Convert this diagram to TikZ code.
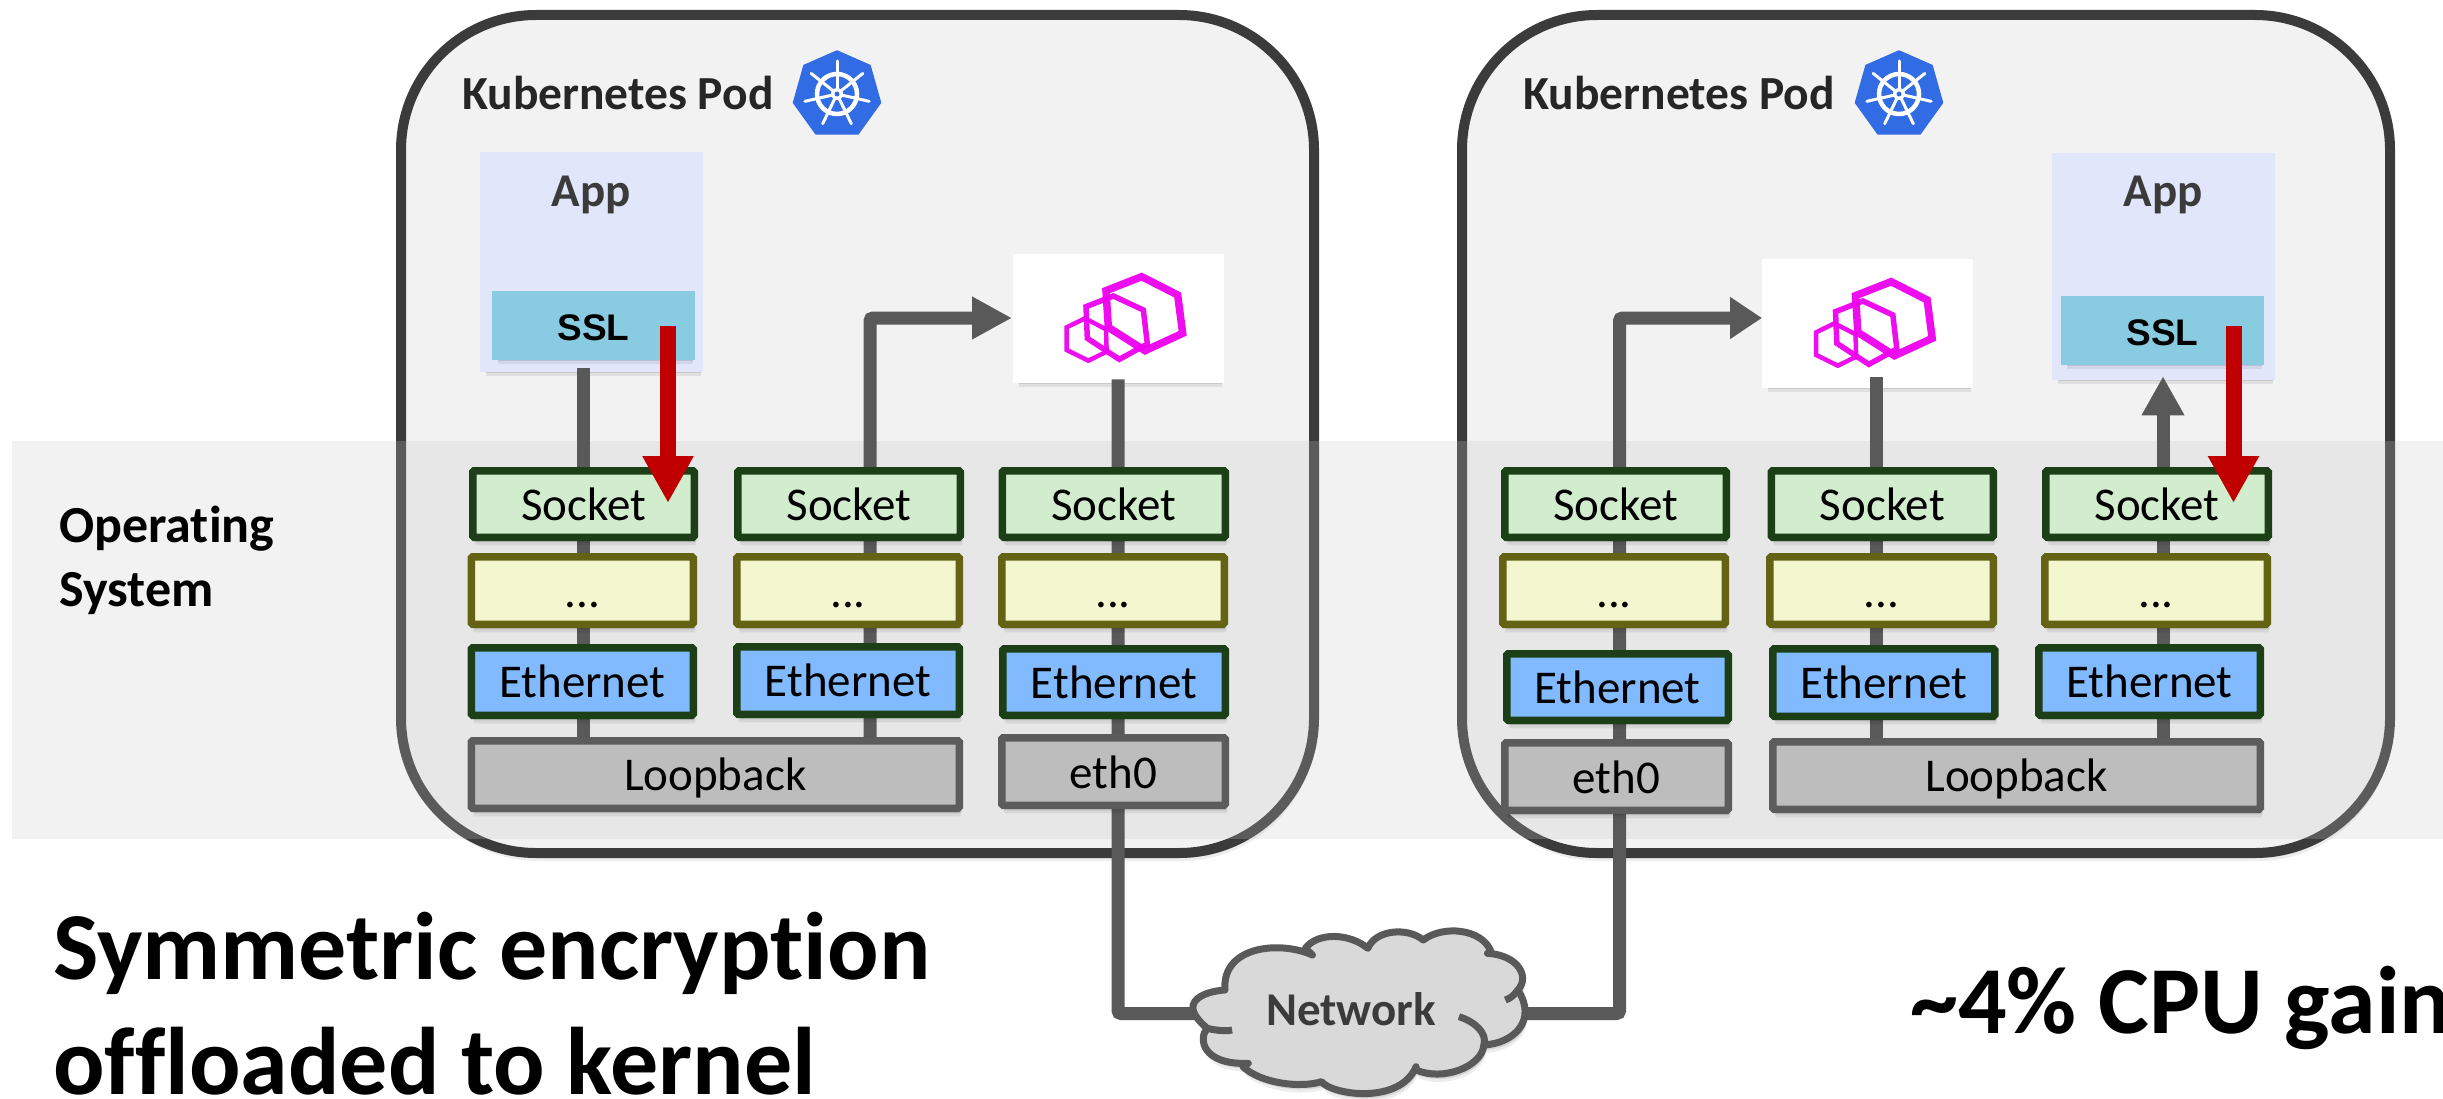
\documentclass[tikz,border=0pt]{standalone}
\usepackage{fontspec}
\setmainfont[Ligatures=NoCommon]{Carlito}
\newfontfamily\arialf{Liberation Sans}
\usetikzlibrary{shadows,arrows.meta}
\pgfdeclarelayer{bg}\pgfdeclarelayer{apps}\pgfdeclarelayer{wires}\pgfdeclarelayer{top}
\pgfsetlayers{bg,apps,wires,main,top}
\definecolor{podline}{HTML}{3B3B3B}
\definecolor{podfill}{HTML}{F2F2F2}
\definecolor{wirec}{HTML}{595959}
\definecolor{sockf}{HTML}{D2EDCE}
\definecolor{sockd}{HTML}{1C3F17}
\definecolor{dotf}{HTML}{F4F6CF}
\definecolor{dotd}{HTML}{636313}
\definecolor{ethf}{HTML}{82BAFF}
\definecolor{grayf}{HTML}{BDBDBD}
\definecolor{grayd}{HTML}{5C5C5C}
\definecolor{appf}{HTML}{E1E6FB}
\definecolor{sslf}{HTML}{89CBE0}
\definecolor{redc}{HTML}{C00000}
\definecolor{kube}{HTML}{326CE5}
\definecolor{envoyc}{HTML}{EE00EE}
\definecolor{bandc}{RGB}{198,198,198}
\definecolor{cloudf}{HTML}{D9D9D9}
\definecolor{txtd}{HTML}{3B3B3B}
\newcommand\pxfont[1]{\fontsize{#1}{#1}\selectfont}
\tikzset{
  softshadow/.style={drop shadow={shadow xshift=1pt,shadow yshift=-2.5pt,fill=black,opacity=.10},
    drop shadow={shadow xshift=2pt,shadow yshift=-5pt,fill=black,opacity=.10},
    drop shadow={shadow xshift=2pt,shadow yshift=-8pt,fill=black,opacity=.07}},
  basebox/.style={rectangle,inner sep=0pt,outer sep=0pt,line width=7.5pt,softshadow,text=black,font=\pxfont{47}},
  sockbox/.style={basebox,draw=sockd,fill=sockf,rounded corners=1.5pt},
  dotbox/.style={basebox,draw=dotd,fill=dotf,rounded corners=1.5pt},
  ethbox/.style={basebox,draw=sockd,fill=ethf,rounded corners=1.5pt},
  graybox/.style={basebox,draw=grayd,fill=grayf,rounded corners=1.5pt},
  appbox/.style={basebox,draw=appf,fill=appf},
  sslbox/.style={basebox,draw=sslf,fill=sslf,font=\arialf\bfseries\pxfont{37}},
  envoybox/.style={basebox,draw=white,fill=white},
  podbox/.style={rectangle,inner sep=0pt,draw=podline,fill=podfill,line width=10pt,rounded corners=135pt,softshadow},
  wire/.style={draw=wirec,line width=13pt},
  redwire/.style={draw=redc,line width=16pt,-{Triangle[length=47pt,width=48pt]}},
  apptext/.style={anchor=base,font=\bfseries\pxfont{47},text=txtd,inner sep=0pt},
  podtext/.style={anchor=base west,font=\bfseries\pxfont{47.5},text=black!85,inner sep=0pt},
  headtext/.style={anchor=base west,font=\bfseries\pxfont{52},text=black,inner sep=0pt},
  bigtext/.style={anchor=base west,font=\bfseries\pxfont{96},text=black,inner sep=0pt},
}
\newcommand\stackbox[8]{%
  \pgfmathsetmacro\bw{#5-#3-7.5}\pgfmathsetmacro\bh{#6-#4-7.5}%
  \pgfmathsetmacro\bx{(#3+#5)/2}\pgfmathsetmacro\by{(#4+#6)/2}%
  \pgfmathsetmacro\bt{2*(#7-\by)}%
  \node[#2,minimum width=\bw pt,minimum height=\bh pt,text height=\bt pt,text depth=0pt] (#1) at (\bx,\by) {#8};}
\newcommand\kubelogo[1]{%
  \begin{scope}[shift={(#1,0)}]
    \fill[kube,line join=round,draw=kube,line width=1.5pt] (0,51) -- (33,65.5) -- (43.5,102.7) -- (21,134) -- (-21,134) -- (-43.5,102.7) -- (-33,65.5) -- cycle;
    \draw[white,line width=4.5pt] (0,94) circle[radius=20pt];
    \foreach \k in {0,...,6}{
      \draw[white,line width=3pt,line cap=round] (0,94) ++(-90+\k*360/7:5) -- ++(-90+\k*360/7:28);
    }
    \fill[white] (0,94) circle[radius=6pt];
    \fill[kube] (0,94) circle[radius=2.5pt];
  \end{scope}}
\newcommand\envoylogo[2]{%
  \begin{scope}[shift={(#1,#2)},draw=envoyc,line join=miter,x=1pt/3,y=-1pt/3]
    \draw[line width=4.5pt,draw opacity=.95] (200,262) -- (255,235) -- (318,268) -- (320,335) -- (265,362) -- (200,330) -- cycle;
    \draw[line width=5.5pt,draw opacity=.95] (258,200) -- (340,168) -- (430,210) -- (442,312) -- (358,358) -- (262,295) -- cycle;
    \draw[line width=7.5pt,draw opacity=.95] (425,110) -- (533,165) -- (548,280) -- (435,332) -- (325,262) -- (318,152) -- cycle;
  \end{scope}}
\begin{document}
\begin{tikzpicture}[x=1pt,y=-1pt]
\useasboundingbox (0,0) rectangle (2443,1099);
\begin{pgfonlayer}{bg}
  \node[podbox,minimum width=913pt,minimum height=838pt] (podL) at (857.5,434) {};
  \node[podbox,minimum width=928pt,minimum height=838pt] (podR) at (1926,434) {};
  \fill[bandc,opacity=.23] (12,441) rectangle (2443,839);
\end{pgfonlayer}
\node[headtext] (os1) at (59,542) {Operating};
\node[headtext] (os2) at (59,606) {System};
\node[podtext] (kL) at (462,110) {Kubernetes Pod};
\node[podtext] (kR) at (1523,110) {Kubernetes Pod};
\kubelogo{837}
\kubelogo{1899}
\begin{pgfonlayer}{apps}
  \stackbox{appL}{appbox}{480}{152}{703}{372}{262}{}
  \stackbox{sslL}{sslbox}{492}{291}{695}{360}{340}{SSL}
  \stackbox{envL}{envoybox}{1013}{254}{1224}{383}{318.5}{}
  \stackbox{appR}{appbox}{2052}{153}{2275}{380}{266.5}{}
  \stackbox{sslR}{sslbox}{2061}{296}{2264}{365}{345}{SSL}
  \stackbox{envR}{envoybox}{1762}{259}{1973}{388}{323.5}{}
  \node[apptext] (appLt) at (591,207) {App};
  \node[apptext] (appRt) at (2163,207) {App};
  \envoylogo{1000}{240}
  \envoylogo{1749.5}{245}
\end{pgfonlayer}
% left stacks
\stackbox{s1}{sockbox}{469}{467}{698}{541}{520}{Socket}
\stackbox{s2}{sockbox}{734}{467}{964}{541}{520}{Socket}
\stackbox{s3}{sockbox}{998.5}{467}{1229}{541}{520}{Socket}
\stackbox{d1}{dotbox}{467.5}{553}{697}{628}{607}{...}
\stackbox{d2}{dotbox}{733}{553}{963}{628}{607}{...}
\stackbox{d3}{dotbox}{998}{553}{1228}{628}{607}{...}
\stackbox{e1}{ethbox}{467.5}{644}{697}{719}{697}{Ethernet}
\stackbox{e2}{ethbox}{733}{643}{963}{718}{696}{Ethernet}
\stackbox{e3}{ethbox}{999}{645}{1229}{719}{698}{Ethernet}
\stackbox{loopL}{graybox}{467.5}{737}{963}{812}{790}{Loopback}
\stackbox{ethL}{graybox}{998}{734}{1229}{809}{788}{eth0}
% right stacks
\stackbox{s4}{sockbox}{1501}{467}{1730}{541}{520}{Socket}
\stackbox{s5}{sockbox}{1767.5}{467}{1997}{541}{520}{Socket}
\stackbox{s6}{sockbox}{2042}{467}{2272}{541}{520}{Socket}
\stackbox{d4}{dotbox}{1499}{553}{1729}{628}{607}{...}
\stackbox{d5}{dotbox}{1766}{553}{1997}{628}{607}{...}
\stackbox{d6}{dotbox}{2041}{553}{2271}{628}{607}{...}
\stackbox{e4}{ethbox}{1503}{650}{1732}{724}{703}{Ethernet}
\stackbox{e5}{ethbox}{1769}{645}{1998.5}{720}{698}{Ethernet}
\stackbox{e6}{ethbox}{2035}{644}{2264}{719}{697}{Ethernet}
\stackbox{ethR}{graybox}{1501}{739}{1732}{814}{793}{eth0}
\stackbox{loopR}{graybox}{1769}{738}{2264}{813}{791}{Loopback}
% named anchors for the connectors
\coordinate (xA) at (583,0);
\coordinate (xB) at (870,0);
\coordinate (xC) at (1118,0);
\coordinate (xD) at (1619.5,0);
\coordinate (xE) at (1876,0);
\coordinate (xF) at (2163,0);
\coordinate (tipL) at (1012,318);
\coordinate (tipR) at (1762,318);
\coordinate (envRtop) at (1876,377);
\coordinate (cloudL) at (1205,1013.5);
\coordinate (cloudR) at (1525,1013.5);
\coordinate (redLs) at (668,326);
\coordinate (redLe) at (668,503);
\coordinate (redRs) at (2233.5,326);
\coordinate (redRe) at (2233.5,503);
\begin{pgfonlayer}{wires}
  \draw[wire] (appL.south -| xA) -- (loopL.north -| xA);
  \draw[wire,rounded corners=3pt,-{Triangle[length=40pt,width=40pt]}] (loopL.north -| xB) -- (xB |- tipL) -- (tipL);
  \draw[wire,rounded corners=3pt] (envL.south -| xC) -- (xC |- cloudL) -- (cloudL);
  \draw[wire,rounded corners=3pt,-{Triangle[length=32pt,width=40pt]}] (cloudR) -- (xD |- cloudR) -- (xD |- tipR) -- (tipR);
  \draw[wire] (envRtop) -- (loopR.north -| xE);
  \draw[wire,-{Triangle[length=39pt,width=40pt]}] (loopR.north -| xF) -- (appR.south -| xF);
\end{pgfonlayer}
\begin{pgfonlayer}{top}
  \draw[redwire] (redLs) -- (redLe);
  \draw[redwire] (redRs) -- (redRe);
\end{pgfonlayer}
% cloud
\begin{scope}[shift={(1100,800)},x=1pt/2.8,y=-1pt/3]
  \path[draw=wirec,fill=cloudf,line width=7pt,line join=round,softshadow]
    (348,570) .. controls (295,575) and (258,595) .. (260,625)
    .. controls (262,650) and (290,675) .. (300,685)
    .. controls (275,715) and (285,795) .. (415,790)
    -- (400,800) .. controls (450,850) and (560,865) .. (620,845)
    .. controls (650,885) and (840,915) .. (885,800)
    -- (885,810) .. controls (960,845) and (1070,800) .. (1075,735)
    .. controls (1160,730) and (1225,660) .. (1170,570)
    .. controls (1205,530) and (1170,465) .. (1085,460)
    -- (1095,455) .. controls (1070,385) and (960,375) .. (905,420)
    .. controls (860,380) and (770,390) .. (750,445)
    .. controls (700,400) and (610,395) .. (575,445)
    -- (595,465) .. controls (500,420) and (340,440) .. (350,570) -- cycle;
  \draw[wirec,line width=7pt] (300,685) .. controls (320,690) and (350,695) .. (370,690);
  \draw[wirec,line width=7pt] (1005,650) .. controls (1050,665) and (1085,700) .. (1075,735);
  \draw[wirec,line width=7pt] (1170,570) .. controls (1160,585) and (1150,595) .. (1135,600);
\end{scope}
\node[anchor=base,font=\bfseries\pxfont{47},text=txtd,inner sep=0pt] (net) at (1351,1025) {Network};
\node[bigtext] (big1) at (53,979) {Symmetric encryption};
\node[bigtext] (big2) at (53,1094) {offloaded to kernel};
\node[bigtext] (big3) at (1910,1033) {\textasciitilde4\% CPU gain};
\end{tikzpicture}
\end{document}
